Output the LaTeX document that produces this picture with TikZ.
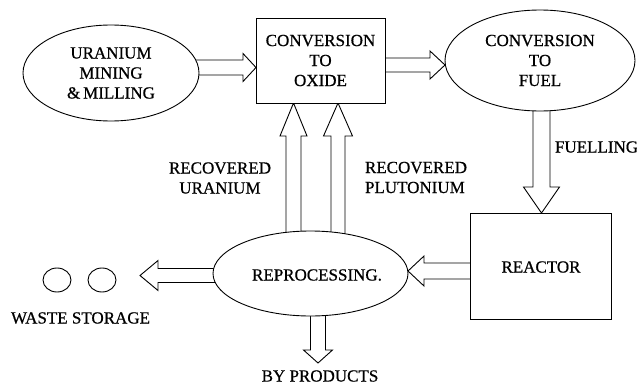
\documentclass[tikz,border=0pt]{standalone}
\usepackage{fontspec}
\setmainfont[FakeBold=0.6]{Liberation Serif}
\usetikzlibrary{shapes.geometric,calc}
\pgfdeclarelayer{bg}
\pgfsetlayers{bg,main}

% hollow block arrow: #1 tail, #2 tip, #3 shaft half-width,
% #4 head half-width, #5 head length (all in pt), #6 name for the head base
\newcommand\blockarrow[6]{%
  \coordinate (#6) at ($(#2)!#5pt!(#1)$);
  \draw[blk] (#2) -- ($(#6)!#4pt!90:(#2)$) -- ($(#6)!#3pt!90:(#2)$)
    -- ($(#1)!#3pt!90:(#2)$) -- ($(#1)!#3pt!-90:(#2)$)
    -- ($(#6)!#3pt!-90:(#2)$) -- ($(#6)!#4pt!-90:(#2)$) -- cycle;
}

\begin{document}
\begin{tikzpicture}[x=1pt,y=1pt,
  font=\fontsize{17}{20}\selectfont,
  every node/.style={inner sep=0pt, outer sep=0pt},
  stage/.style={draw, line width=0.9pt, fill=white, align=center},
  oval/.style={stage, ellipse},
  boxed/.style={stage, rectangle},
  waste/.style={draw, line width=0.9pt, ellipse, minimum width=28pt, minimum height=24pt},
  blk/.style={draw, line width=0.9pt, fill=white, line join=miter},
  lbl/.style={align=left}]
\useasboundingbox (0,0) rectangle (637,384);

% process stages
\node[oval, minimum width=176pt, minimum height=96pt] (uran) at (111,311)
  {URANIUM\\MINING\\\&\,MILLING};
\node[boxed, minimum width=129pt, minimum height=85pt] (oxide) at (320.5,323.5)
  {CONVERSION\\TO\\OXIDE};
\node[oval, minimum width=190pt, minimum height=101pt] (fuel) at (540,323.5)
  {CONVERSION\\TO\\FUEL};
\node[boxed, minimum width=141pt, minimum height=106pt] (reactor) at (540.5,118) {};
\node (reactortext) at (541,117) {REACTOR};
\node[oval, minimum width=195pt, minimum height=85pt] (repro) at (310.5,110.5) {};
\node (reprotext) at (317,109) {REPROCESSING.};

% waste storage
\node[waste] (waste1) at (57,104) {};
\node[waste] (waste2) at (102,104) {};
\node (wastetext) at (80.5,66) {WASTE STORAGE};
\node (bytext) at (320,8) {BY PRODUCTS};

% flow labels
\node[align=center] (recU) at (220,206) {RECOVERED\\URANIUM};
\node[lbl, anchor=west] (recPu) at (365,206.5) {RECOVERED\\PLUTONIUM};
\node[anchor=west] (fuelling) at (555,237) {FUELLING};

% arrow ends
\coordinate (a1s) at ([yshift=5.5pt]uran.center);
\coordinate (a1t) at (oxide.west |- a1s);
\coordinate (a2s) at ([yshift=-4.5pt]oxide.center);
\coordinate (a2t) at (fuel.west |- a2s);
\coordinate (a3s) at ([xshift=1.5pt]fuel.center);
\coordinate (a3t) at (a3s |- reactor.north);
\coordinate (a4s) at ([yshift=-5pt]reactor.center);
\coordinate (a4t) at (repro.east |- a4s);
\coordinate (a5s) at ([yshift=-2pt]repro.center);
\coordinate (wastetip) at (140,108.5);
\coordinate (a6s) at ([xshift=7.5pt]repro.center);
\coordinate (bytip) at (318,21);
\coordinate (a7s) at ([xshift=-17pt]repro.center);
\coordinate (a7t) at (a7s |- oxide.south);
\coordinate (a8s) at ([xshift=27.5pt]repro.center);
\coordinate (a8t) at (a8s |- oxide.south);

\begin{pgfonlayer}{bg}
  \blockarrow{a1s}{a1t}{7.5}{14}{13}{a1h}
  \blockarrow{a2s}{a2t}{7}{14}{15}{a2h}
  \blockarrow{a3s}{a3t}{8.5}{18}{26}{a3h}
  \blockarrow{a4s}{a4t}{8}{15}{16}{a4h}
  \blockarrow{a5s}{wastetip}{7}{15}{18}{a5h}
  \blockarrow{a6s}{bytip}{7.5}{14.5}{13}{a6h}
  \blockarrow{a7s}{a7t}{7.5}{13.5}{33}{a7h}
  \blockarrow{a8s}{a8t}{7}{14.5}{33}{a8h}
\end{pgfonlayer}
\end{tikzpicture}
\end{document}
